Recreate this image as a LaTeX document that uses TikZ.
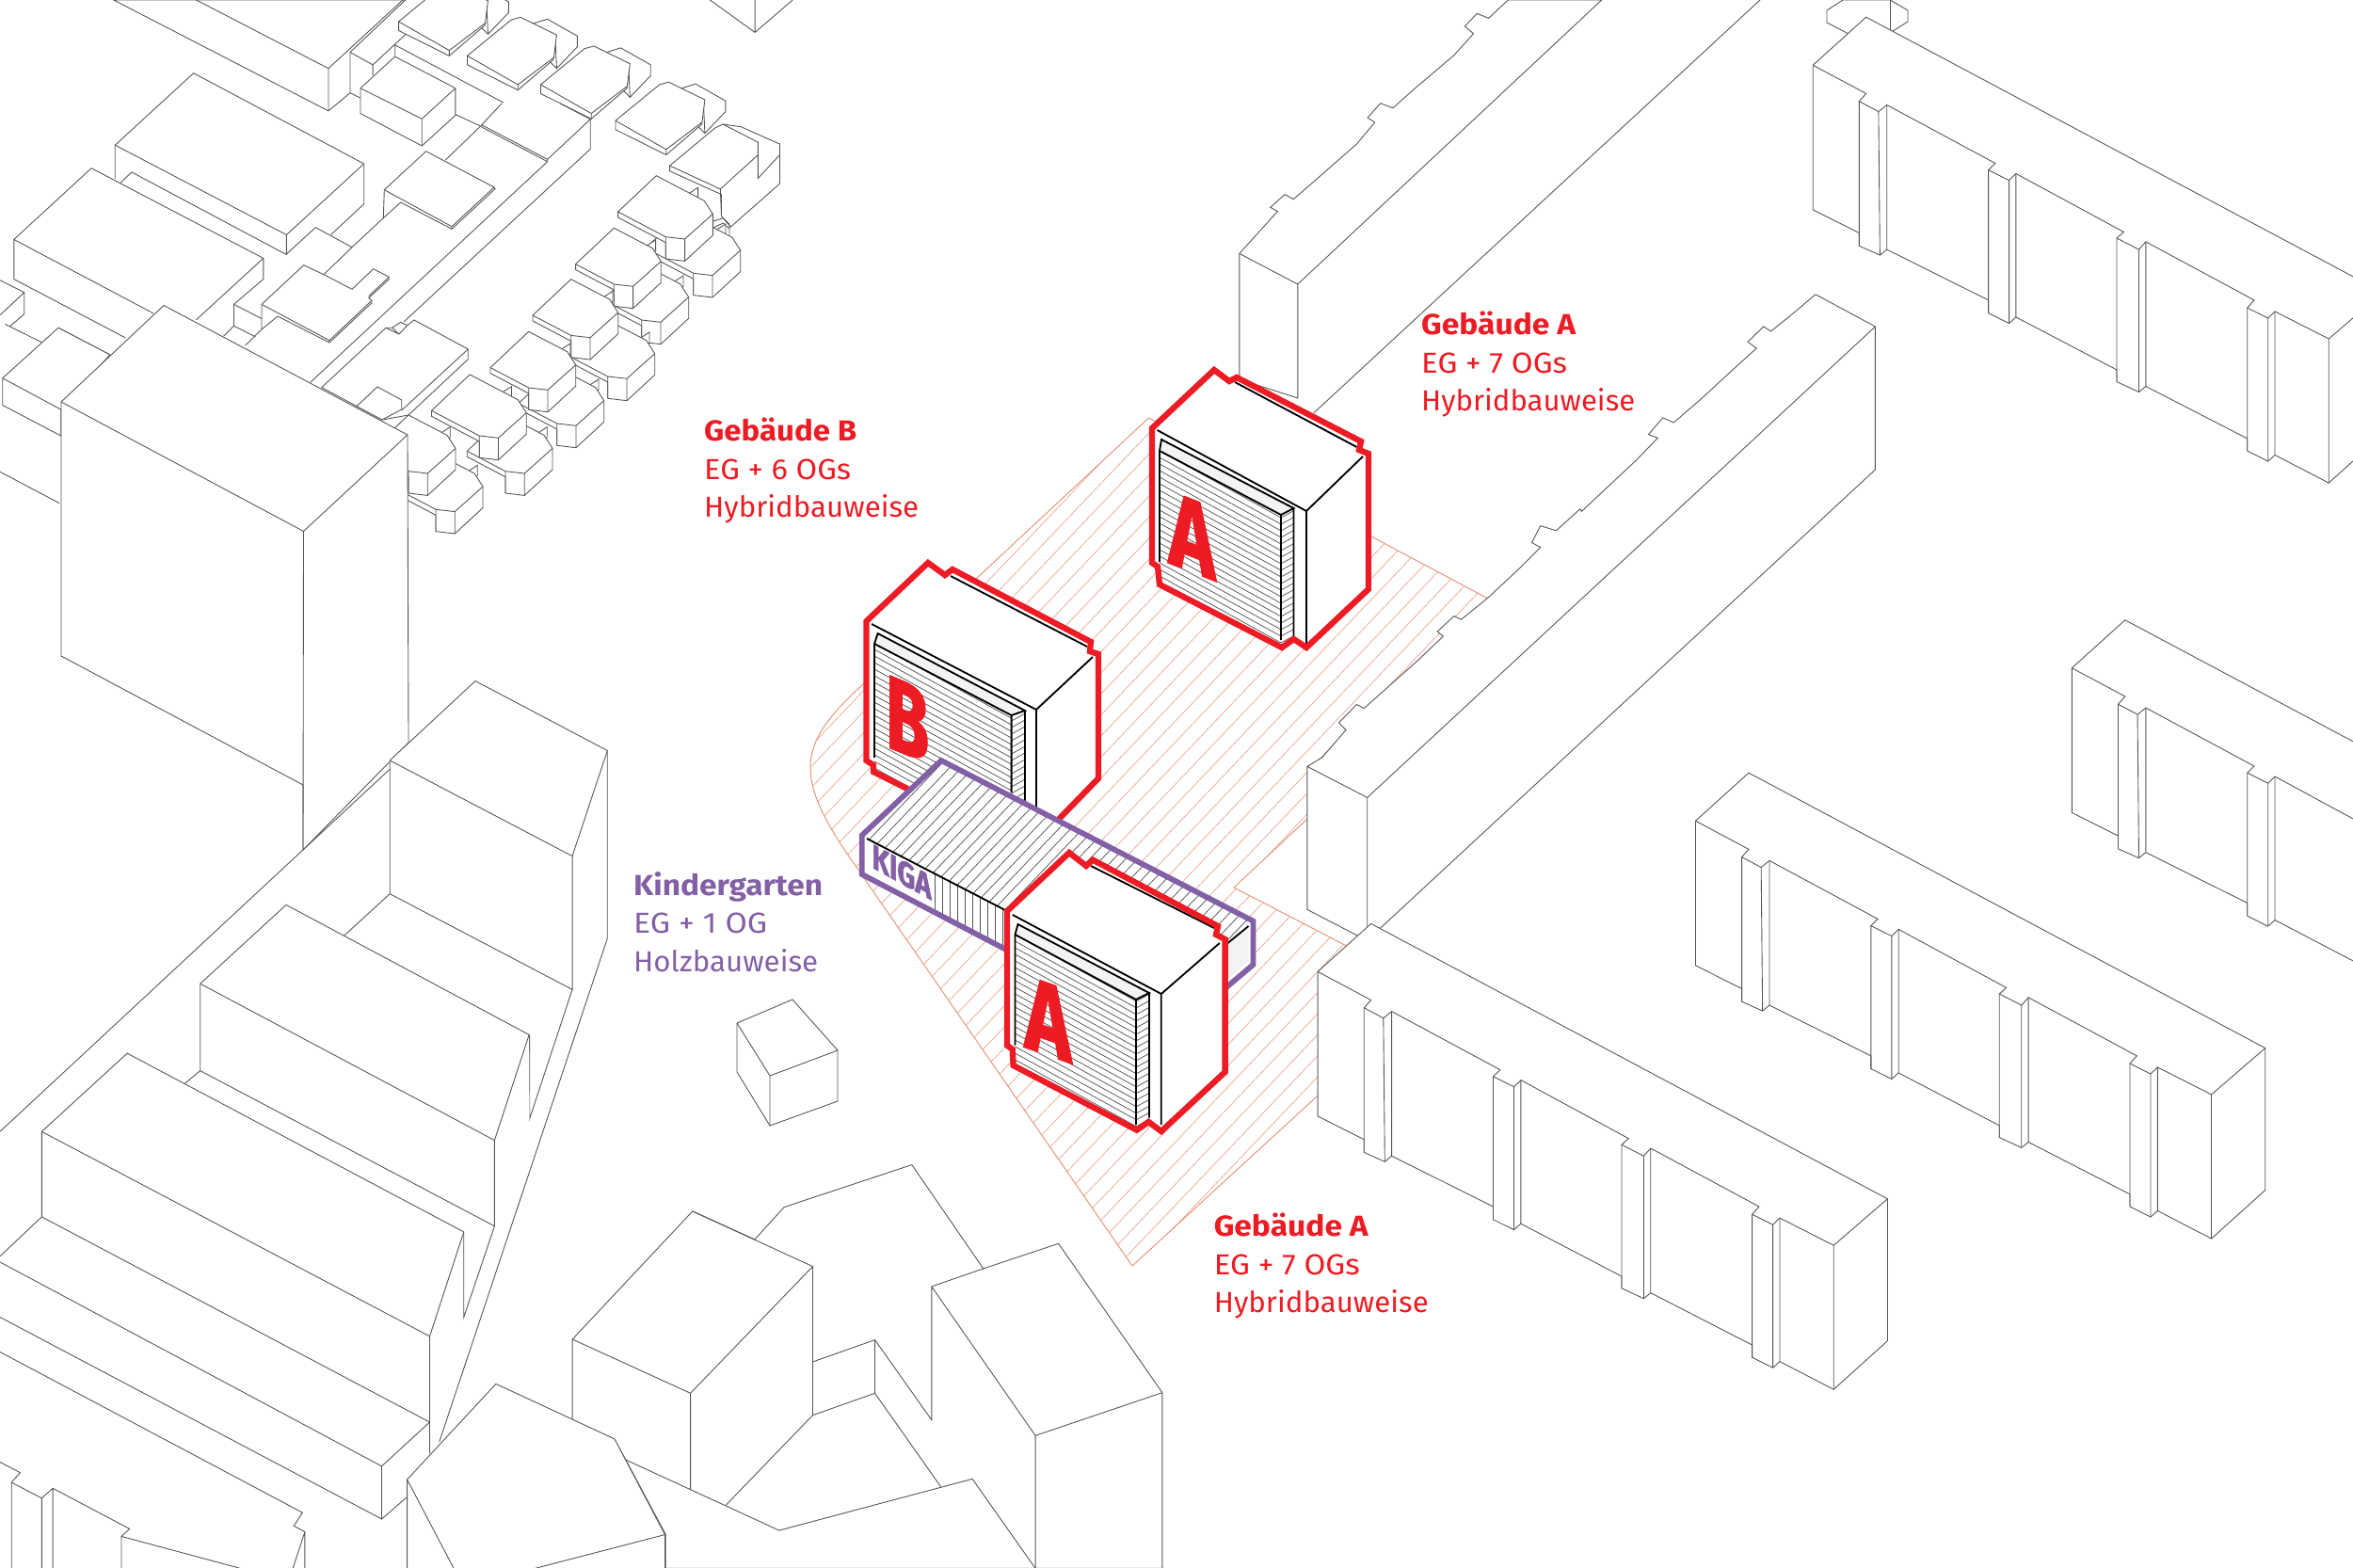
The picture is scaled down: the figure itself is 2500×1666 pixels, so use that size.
\documentclass[tikz,border=0pt]{standalone}
\usepackage{fontspec}
\usepackage{graphicx}
\setmainfont{Fira Sans}
\definecolor{markred}{HTML}{ED1C24}
\definecolor{markviolet}{HTML}{8360A6}
\definecolor{plotline}{HTML}{EBB09A}
\definecolor{plotedge}{HTML}{E69478}
\definecolor{massline}{HTML}{555555}
\definecolor{recess}{HTML}{F3F3F5}
\newdimen\pxunit \pxunit=0.04cm
\newcommand\fitw[2]{\resizebox{#1\pxunit}{\height}{#2}}
\tikzset{
  bldg/.style={draw=massline,line width=1pt,fill=white,line join=miter},
  edge/.style={draw=massline,line width=1pt},
  slat/.style={draw=massline,line width=0.85pt},
  ink/.style={draw=black,line width=2.1pt},
  redband/.style={draw=markred,line width=7.2pt,miter limit=6},
  violetband/.style={draw=markviolet,line width=6.6pt,miter limit=6},
  tagtext/.style={anchor=base west,inner sep=0pt,font=\fontsize{35}{40}\selectfont},
  bigletter/.style={anchor=base,inner sep=0pt,transform shape,text=markred},
  viewNW/.style={x=0.021942cm,y=-0.015308cm},
  viewSW/.style={yshift=-28cm,x=0.020408cm,y=-0.024646cm},
  viewS/.style={xshift=24cm,yshift=-48cm,x=0.017857cm,y=-0.013333cm},
  viewE/.style={xshift=54cm,yshift=-25.6cm,x=0.029347cm,y=-0.021942cm},
}
% louvred facade: clip outline, left x, right x, first y, slope
\newcommand\blinds[5]{%
  \begin{scope}
    \clip #1;
    \foreach \k in {0,...,40}{\draw[slat] (#2,{#4+7*\k}) -- (#3,{#4+7*\k+(#5)*(#3-#2)});}
  \end{scope}}
% long apartment slab with four projecting stair towers
\newcommand\slab[2]{%
  \begin{scope}[shift={(#1,#2)}]
    \path[bldg] (68,715)--(145,622)--(893,1155)--(893,1430)--(815,1524)--(737,1470)--(727,1482)--(697,1462)--(697,1438)--(550,1337)--(540,1348)--(508,1328)--(508,1305)--(362,1203)--(352,1215)--(322,1195)--(322,1170)--(175,1072)--(165,1083)--(135,1065)--(135,1040)--(68,995)--cycle;
    \draw[edge] (68,715)--(145,770)--(135,785)--(163,805)--(175,792)--(332,905)--(322,918)--(352,938)--(362,925)--(518,1038)--(508,1050)--(540,1072)--(550,1057)--(707,1170)--(697,1185)--(727,1205)--(737,1192)--(815,1245)--(893,1155);
    \draw[edge] (135,785)--(135,1065) (163,805)--(165,1083) (175,792)--(175,1072)
      (322,918)--(322,1195) (352,938)--(352,1215) (362,925)--(362,1203)
      (508,1050)--(508,1328) (540,1072)--(540,1348) (550,1057)--(550,1337)
      (697,1185)--(697,1462) (727,1205)--(727,1482) (737,1192)--(737,1470)
      (815,1245)--(815,1524);
  \end{scope}}
% terraced house with a lean-to behind it
\newcommand\terrace[2]{%
  \begin{scope}[shift={(#1,#2)}]
    \path[bldg] (1033,65)--(1060,53)--(1118,100)--(1118,130)--(1078,190)--(1050,150)--cycle;
    \draw[edge] (1075,100)--(1078,190);
    \path[bldg] (905,155)--(905,180)--(1003,250)--(1072,165)--(1078,97)--(1008,48)--(990,55)--cycle;
    \draw[edge] (905,155)--(1003,235)--(1072,160) (1003,235)--(1003,250);
  \end{scope}}
% chamfered courtyard house at (#1,#2); #3 shortens its long side
\newcommand\courthouse[3]{%
  \begin{scope}[shift={(#1,#2)}]
    \path[bldg] (36,18)--(44.3,12.7)--(44.3,24)--(30,30)--cycle;
    \path[bldg] (0,0)--({51-#3},{26.7-.53*#3})--({60-#3},{40.7-.53*#3})--({60-#3},{63.3-.53*#3})--({30.3-#3},{90.7-.53*#3})--({10-#3},{88.3-.53*#3})--({10-#3},{71-.53*#3})--(-40.7,44.3)--(-40.7,38.3)--cycle;
    \draw[edge] (-40.7,38.3)--({10-#3},{65-.53*#3})--({30.3-#3},{67.3-.53*#3})--({60-#3},{40.7-.53*#3})
      ({10-#3},{65-.53*#3})--({10-#3},{88.3-.53*#3}) ({30.3-#3},{67.3-.53*#3})--({30.3-#3},{90.7-.53*#3});
  \end{scope}}
\begin{document}
\begin{tikzpicture}[x=0.04cm,y=-0.04cm]
\useasboundingbox (0,0) rectangle (2500,1666);
\clip (0,0) rectangle (2500,1666);
\fill[white] (0,0) rectangle (2500,1666);

% building plot, hatched
\begin{scope}
  \clip (1220.5,444)--(1579,635)--(1600,640)--(1440,830)--(1389,870)--(1311,943)--(1428,1003.6)--(1500,1040)--(1500,1100)--(1410,1155)--(1203,1345)--(900,907) .. controls (868,860) and (861,835) .. (861,815) .. controls (861,780) and (890,752) .. (919,725)--cycle;
  \foreach \k in {0,...,46}{\draw[plotline,line width=0.9pt] ({283+21.3*\k},1400) -- ({283+21.3*\k+952.4},400);}
\end{scope}
\draw[plotedge,line width=1.1pt,line join=miter] (1220.5,444)--(1579,635)--(1600,640)--(1440,830)--(1389,870)--(1311,943)--(1428,1003.6)--(1500,1040)--(1500,1100)--(1410,1155)--(1203,1345)--(900,907) .. controls (868,860) and (861,835) .. (861,815) .. controls (861,780) and (890,752) .. (919,725)--cycle;

% street lines and slabs on the east side
\draw[edge] (1395.6,439)--(1870,0);
\path[bldg] (1602.2,0)--(1581.6,19.4)--(1569.3,14.3)--(1556.3,28)--(1565.5,35.7)--(1544.8,58.7)--(1502.8,94.4)--(1479.8,114.8)--(1466.8,109.7)--(1453,125)--(1460.7,130)--(1441.5,153)--(1399.5,189.8)--(1374.2,211.7)--(1365,206.6)--(1349.7,220.4)--(1357.4,224.5)--(1334.4,250)--(1316.8,269.4)--(1316.8,403)--(1378.8,423)--(1378.8,302)--(1701.7,0)--cycle;
\draw[edge] (1316.8,269.4)--(1378.8,302);

\path[bldg] (1928.9,312.8)--(1909.8,329)--(1900.6,336.7)--(1881.5,352)--(1873.8,347)--(1857,363.3)--(1866.2,370)--(1841,392.9)--(1805,426)--(1778.2,449)--(1766.7,443.9)--(1751.4,461.7)--(1761.4,465.3)--(1737.6,489.8)--(1680.3,543.4)--(1678.7,540.8)--(1653.5,563.8)--(1636.7,558.7)--(1627.5,576.5)--(1636.7,581.6)--(1613.7,604.6)--(1580.8,635.2)--(1552.5,658.2)--(1544.8,654.6)--(1527.2,671)--(1533.4,676)--(1506.6,701.5)--(1449.2,752.6)--(1441.5,748.5)--(1422.4,767.9)--(1430,775.5)--(1405,804.6)--(1388.9,814.4)--(1388.9,966.4)--(1441.7,993.8)--(1452.7,999)--(1992.4,499)--(1992.4,347)--cycle;
\draw[edge] (1388.9,814.4)--(1452.7,847.4)--(1992.4,347) (1452.7,847.4)--(1452.7,999);

\path[bldg] (1941,11)--(1958,0)--(2008,0)--(2027,11)--(2027,23)--(2008,35)--(1966,37)--(1941,24)--cycle;
\draw[edge] (2008,0)--(2008,35);

\begin{scope}[viewE]
  \slab{717}{-1755.5}
  \slab{1092}{-588}
  \slab{547}{-292}
  \slab{0}{0}
\end{scope}

% small houses north-west
\begin{scope}[viewNW]
  \draw[edge] (1375,0)--(1462,90)--(1535,0) (1462,0)--(1462,90);
  \path[bldg] (220,0)--(636,308)--(678,258)--(678,145)--(785,0)--cycle;
  \draw[edge] (380,0)--(636,190)--(636,308) (636,190)--(780,0);
  \draw[edge] (678,258)--(698,272) (678,145)--(722,180)--(722,210) (722,180)--(788,92) (765,125)--(765,155) (765,125)--(975,285);
  \path[bldg] (765,157)--(882,245)--(882,320)--(817,405)--(698,315)--(698,245)--cycle;
  \draw[edge] (698,245)--(817,330)--(882,245) (817,330)--(817,405);
  \terrace{-133}{-95}
  \terrace{0}{0}
  \terrace{142}{80}
  \terrace{287}{180}
  \path[bldg] (1297,460)--(1385,355)--(1400,345)--(1435,352)--(1510,400)--(1510,510)--(1415,630)--(1397,600)--(1397,540)--(1297,475)--cycle;
  \draw[edge] (1297,460)--(1395,525)--(1468,430)--(1468,395)--(1400,345) (1395,525)--(1397,600) (1468,395)--(1468,495)--(1510,430);
\end{scope}
\draw[edge] (758,235)--(768.3,231.7)--(775,238.3)--(775,249.3) (758,242)--(768.3,237)--(775,243);

% top block and the lane beside it
\path[fill=white] (533,110)--(595,110)--(627.3,126.7)--(627.3,158.3)--(581.7,171.7)--(511.7,135)--(511.7,132.7)--cycle;
\draw[edge] (533,110)--(511.7,132.7)--(581.7,169.3)--(627.3,126.7)--(595,110) (511.7,135)--(581.7,171.7) (511.7,132.7)--(511.7,135) (581.7,169.3)--(581.7,171.7);
\draw[edge] (627.3,126.7)--(627.3,158.3)--(429,342) (581.7,171.7)--(330,406);
\draw[edge] (473.3,170)--(510.7,134) (484,121.7)--(510.7,134);

% courtyard houses, rear row then front row
\courthouse{726.7}{225.3}{0}
\courthouse{681.7}{280.3}{10}
\courthouse{645.7}{340.3}{10}
\courthouse{591.7}{390.3}{10}
\courthouse{537}{441}{10}
\courthouse{463}{481.6}{10}
\courthouse{697.3}{186.7}{0}
\courthouse{652.3}{242.3}{10}
\courthouse{606.7}{296.7}{10}
\courthouse{561.7}{352.3}{10}
\courthouse{499.2}{398}{0}
\courthouse{434}{441}{10}

% flat blocks along the lane
\path[fill=white] (205.7,77.7)--(386.7,174)--(386.7,216.7)--(351.7,249.3)--(335.3,241.7)--(304.3,270.6)--(127.8,194.4)--(122.3,190)--(122.3,154.2)--cycle;
\draw[edge] (122.3,190)--(122.3,154.2)--(205.7,77.7)--(386.7,174)--(386.7,216.7)--(351.7,249.3);
\draw[edge] (122.3,154.2)--(304.4,249.5)--(386.7,174) (304.4,249.5)--(304.4,270.6) (127.8,194.4)--(139.9,182.9)--(304.4,270.6);
\draw[edge] (304.3,270)--(335.3,241.7)--(374,262.7)--(344,291.7) (374,262.7)--(407.3,231.7);
\path[bldg] (452.7,160.7)--(525,199)--(526,200.7)--(480,243.3)--(425.7,215)--(407.3,231.7)--(408.3,201.7)--cycle;
\draw[edge] (408.3,201.7)--(480,240.7)--(525,199) (480,240.7)--(480,243.3);
\begin{scope}[viewNW]
  \path[fill=white] (177,467)--(510,717)--(510,775)--(453,845)--(380,888)--(243,938)--(27,775)--(27,665)--cycle;
  \draw[edge] (27,775)--(27,665)--(177,467)--(510,717)--(510,775)--(453,845) (27,665)--(297,870) (510,717)--(380,888) (27,775)--(243,938);
  \draw[edge] (453,845)--(453,905)--(495,935) (453,905)--(433,933) (453,845)--(507,885);
\end{scope}
\path[bldg] (322.7,281.7)--(344,291.7)--(374,307.3)--(396.7,285.7)--(413.3,294.3)--(413.3,296.7)--(391.7,316.7)--(395,319.3)--(395,321.7)--(350,364)--(295,336)--(278,350)--(278,323.4)--cycle;
\draw[edge] (278,323.4)--(350,361.7)--(395,319.3) (350,361.7)--(350,364) (413.3,294.3)--(391.7,314.7) (278,350)--(260.6,367);
% block on the lane's south end
\path[bldg] (341.7,411.7)--(410,348.3)--(416.7,348.3)--(425.7,342.3)--(432.7,345.7)--(440,340)--(497.3,371)--(497.3,381.7)--(434,441)--(406,446)--cycle;
\draw[edge] (416.7,348.3)--(424,355)--(432.7,345.7) (410,348.3)--(424,355) (497.3,371)--(426.7,436);
\path[bldg] (379,431.7)--(401,411)--(426.7,425)--(426.7,435)--(406,446)--cycle;
\begin{scope}[viewNW]
  \draw[edge] (0,778)--(47,812)--(47,872)--(20,905) (47,812)--(0,875) (10,900)--(80,950);
  \draw[edge] (113,910)--(213,985);
  \path[bldg] (5,1050)--(113,910)--(213,985)--(118,1137)--(118,1210)--(5,1125)--cycle;
  \draw[edge] (5,1050)--(118,1137) (0,1310)--(115,1397);
\end{scope}

% tower
\path[bldg] (65,427)--(174,324.5)--(433,462)--(434,789)--(322,903)--(322,834)--(65,697)--cycle;
\draw[edge] (65,427)--(322.5,564.5)--(433,462) (322.5,564.5)--(322,903);

% south-west blocks
\begin{scope}[viewSW]
  \draw[edge] (0,815)--(812,190);
  \path[fill=white] (812,175)--(990,38)--(1265,158)--(1265,482)--(915,1350)--(1103,793)--(1103,648)--(717,477)--(812,405)--cycle;
  \draw[edge] (812,405)--(812,175)--(990,38)--(1265,158)--(1265,482)--(915,1350);
  \draw[edge] (812,175)--(1192,340)--(1265,158) (1192,340)--(1192,570)--(812,405)--(717,477) (1192,570)--(1103,793)--(1103,648);
  \path[fill=white] (417,560)--(596,424)--(1102,648)--(1103,793)--(966,1135)--(966,988)--(385,732)--(417,710)--cycle;
  \draw[edge] (417,710)--(417,560)--(596,424)--(1102,648)--(1030,830)--(417,560) (1030,830)--(1030,978)--(417,710)--(385,732) (1030,978)--(966,1135)--(966,988);
  \path[fill=white] (87,815)--(265,680)--(966,988)--(895,1168)--(895,1370)--(795,1483)--(0,1135)--(0,1030)--(87,962)--cycle;
  \draw[edge] (87,962)--(87,815)--(265,680)--(966,988)--(895,1168)--(87,815) (895,1168)--(895,1370) (87,962)--(895,1316) (87,962)--(0,1030) (0,1040)--(795,1392)--(895,1316) (795,1392)--(795,1483)--(848,1445) (0,1135)--(795,1483);
  \draw[edge] (0,1195)--(630,1472)--(612,1495)--(635,1505)--(610,1568) (635,1505)--(635,1568);
  \draw[edge] (0,1385)--(42,1403)--(24,1420)--(87,1447)--(87,1568) (24,1420)--(24,1568) (87,1447)--(110,1430)--(270,1500)--(253,1513)--(500,1568) (110,1430)--(110,1568) (253,1513)--(253,1568);
\end{scope}

% south blocks
\begin{scope}[viewS]
  \path[bldg] (452,350)--(522,247)--(826,112)--(996,443)--(1175,363)--(1422,838)--(1422,1398)--(240,1398)--(240,1290)--(145,1052)--(118,987)--(18,925)--(18,668)--(304,260)--cycle;
  \draw[edge] (18,668)--(299,840)--(590,436)--(304,260);
  \draw[edge] (299,840)--(299,1148) (590,436)--(590,910)--(383,1197);
  \draw[edge] (873,500)--(996,443) (873,500)--(1120,975)--(1422,838) (873,500)--(873,925)--(738,670)--(590,740) (738,670)--(738,840)--(590,910) (738,840)--(895,1138) (1120,975)--(1120,1398);
  \draw[edge] (145,1052)--(510,1277)--(970,1113)--(1120,1398);
  \draw[edge] (0,915)--(118,987) (240,1290)--(0,1370);
\end{scope}
\begin{scope}[viewSW]
  \path[fill=white] (848,1415)--(1033,1250)--(1280,1345)--(1385,1510)--(1385,1568)--(848,1568)--cycle;
  \draw[edge] (848,1568)--(848,1415)--(1033,1250)--(1280,1345)--(1385,1510)--(1385,1568);
  \draw[edge] (848,1415)--(945,1568) (1385,1510)--(1115,1568);
\end{scope}

% kiosk cube
\path[bldg] (783,1087)--(842,1062)--(890,1116)--(890,1170)--(818,1196)--(783,1139)--cycle;
\draw[edge] (783,1087)--(818,1143)--(890,1116) (818,1143)--(818,1196);

% house B
\path[fill=white] (986,598)--(1004,611)--(1012,605)--(1159,682)--(1158,692)--(1167,695)--(1167,827)--(1101,895)--(1085,885)--(1074,893)--(928,820)--(928,813)--(920.5,808)--(920.5,660)--cycle;
\fill[recess] (932.6,673)--(1089,755)--(1074.6,760)--(929,684)--cycle;
\blinds{(929,684)--(1074.6,760)--(1074.6,905)--(929,820)--cycle}{929}{1074.6}{676}{.55}
\blinds{(1074.6,760)--(1089,755)--(1089,900)--(1074.6,910)--cycle}{1074.6}{1089}{752}{-.55}
\draw[ink,line join=miter] (926,663)--(1101,754)--(1161,698) (1101,754)--(1101,857) (1010,612)--(1155,687);
\draw[ink,line join=miter] (929,805)--(929,684)--(932.6,673)--(1089,755)--(1074.6,760)--(929,684) (1089,755)--(1089,852) (1074.6,760)--(1074.6,842);
\draw[redband] (986,598)--(1004,611)--(1012,605)--(1159,682)--(1158,692)--(1167,695)--(1167,827)--(1101,895)--(1085,885)--(1074,893)--(928,820)--(928,813)--(920.5,808)--(920.5,660)--cycle;
\begin{scope}[shift={(964,802)},cm={1,-0.42,0,1,(0,0)}]
  \node[bigletter] (letterB) at (0,0) {\resizebox{46\pxunit}{76\pxunit}{\bfseries\addfontfeature{FakeBold=2}B}};
\end{scope}

% kindergarten bar
\path[fill=white] (1000,808)--(1331.4,978.6)--(1331.4,1025)--(1290,1060)--(1150,1050)--(1069,1009)--(915.8,929)--(915.8,887.5)--cycle;
\begin{scope}
  \clip (1000,808)--(1331,978)--(1302,1004)--(1100,1000)--(1068,968)--(921,892)--cycle;
  \foreach \k in {0,...,44}{\draw[slat] ({700+12.7*\k},1100) -- ({700+12.7*\k+381},700);}
\end{scope}
\foreach \k in {0,...,9}{\draw[slat] ({993+8*\k},{929+0.517*8*\k}) -- ({993+8*\k},{967+0.522*8*\k});}
\fill[recess] (1326.5,984)--(1326.5,1021)--(1303.5,1041)--(1302,1004)--cycle;
\draw[ink] (921,891)--(1068,967) (1326.5,984)--(1302,1004);
\draw[violetband] (1000,808)--(1331.4,978.6)--(1331.4,1025)--(1290,1060)--(1150,1050)--(1069,1009)--(915.8,929)--(915.8,887.5)--cycle;
\begin{scope}[shift={(958,939)},cm={1,-0.55,0,1,(0,0)}]
  \node[bigletter,text=markviolet] (letterKiga) at (0,0) {\resizebox{63\pxunit}{26\pxunit}{\bfseries\addfontfeature{FakeBold=2}KIGA}};
\end{scope}

% house A, south
\path[fill=white] (1136,906)--(1154,920)--(1161,913.6)--(1294,984)--(1292,993)--(1301.6,998)--(1301.6,1139)--(1233.8,1202)--(1220.4,1192)--(1207.8,1200.7)--(1076.6,1132)--(1075.8,1115)--(1070,1110.7)--(1070,968)--cycle;
\fill[recess] (1081.5,982)--(1221,1055)--(1207,1062)--(1078.5,993)--cycle;
\blinds{(1078.5,993)--(1207,1062)--(1207,1200)--(1078.5,1130)--cycle}{1078.5}{1207}{986}{.55}
\blinds{(1207,1062)--(1221,1055)--(1221,1192)--(1207,1200)--cycle}{1207}{1221}{1050}{-.55}
\draw[ink,line join=miter] (1075.8,972)--(1233.8,1056)--(1295.8,1002) (1233.8,1056)--(1233.8,1195) (1159,920)--(1290,986);
\draw[ink,line join=miter] (1078.5,1110.7)--(1078.5,993)--(1081.5,982)--(1221,1055)--(1207,1062)--(1078.5,993) (1207,1062)--(1207,1195) (1221,1055)--(1221,1187.5);
\draw[redband] (1136,906)--(1154,920)--(1161,913.6)--(1294,984)--(1292,993)--(1301.6,998)--(1301.6,1139)--(1233.8,1202)--(1220.4,1192)--(1207.8,1200.7)--(1076.6,1132)--(1075.8,1115)--(1070,1110.7)--(1070,968)--cycle;
\begin{scope}[shift={(1113.5,1121)},cm={1,-0.35,0,1,(0,0)}]
  \node[bigletter] (letterAs) at (0,0) {\resizebox{49\pxunit}{76\pxunit}{\bfseries\addfontfeature{FakeBold=2}A}};
\end{scope}

% house A, north
\path[fill=white] (1290,393)--(1306,405)--(1314,401)--(1446,469)--(1444,478)--(1454,482)--(1454,626)--(1388,688)--(1374.5,679)--(1362,688)--(1232,621)--(1230,602)--(1224,598)--(1224,455)--cycle;
\fill[recess] (1234,467)--(1374.5,540)--(1361,547)--(1232,479)--cycle;
\blinds{(1232,479)--(1361,547)--(1361,688)--(1232,621)--cycle}{1232}{1361}{472}{.55}
\blinds{(1361,547)--(1374.5,540)--(1374.5,679)--(1361,688)--cycle}{1361}{1374.5}{536}{-.55}
\draw[ink,line join=miter] (1229.5,457)--(1388,543)--(1448,485) (1388,543)--(1388,685) (1312,406)--(1441.5,475);
\draw[ink,line join=miter] (1232,597)--(1232,479)--(1234,467)--(1374.5,540)--(1361,547)--(1232,479) (1361,547)--(1361,680) (1374.5,540)--(1374.5,677);
\draw[redband] (1290,393)--(1306,405)--(1314,401)--(1446,469)--(1444,478)--(1454,482)--(1454,626)--(1388,688)--(1374.5,679)--(1362,688)--(1232,621)--(1230,602)--(1224,598)--(1224,455)--cycle;
\begin{scope}[shift={(1266.5,607.5)},cm={1,-0.39,0,1,(0,0)}]
  \node[bigletter] (letterAn) at (0,0) {\resizebox{49\pxunit}{76.5\pxunit}{\bfseries\addfontfeature{FakeBold=2}A}};
\end{scope}

% captions
\node[tagtext,text=markred] (capAna) at (1510,355.6) {\fitw{164}{\bfseries Gebäude A}};
\node[tagtext,text=markred] (capAnb) at (1510,396) {\fitw{155}{EG + 7 OGs}};
\node[tagtext,text=markred] (capAnc) at (1510,436) {\fitw{227}{Hybridbauweise}};
\node[tagtext,text=markred] (capBa) at (748,468) {\fitw{162}{\bfseries Gebäude B}};
\node[tagtext,text=markred] (capBb) at (748,509) {\fitw{156}{EG + 6 OGs}};
\node[tagtext,text=markred] (capBc) at (748,549) {\fitw{228}{Hybridbauweise}};
\node[tagtext,text=markviolet] (capKa) at (673,951) {\fitw{201}{\bfseries Kindergarten}};
\node[tagtext,text=markviolet] (capKb) at (673,991.4) {\fitw{142}{EG + 1 OG}};
\node[tagtext,text=markviolet] (capKc) at (673,1032.7) {\fitw{196}{Holzbauweise}};
\node[tagtext,text=markred] (capAsa) at (1289.6,1313.6) {\fitw{164}{\bfseries Gebäude A}};
\node[tagtext,text=markred] (capAsb) at (1289.6,1354.7) {\fitw{155}{EG + 7 OGs}};
\node[tagtext,text=markred] (capAsc) at (1289.6,1394) {\fitw{228}{Hybridbauweise}};
\end{tikzpicture}
\end{document}
